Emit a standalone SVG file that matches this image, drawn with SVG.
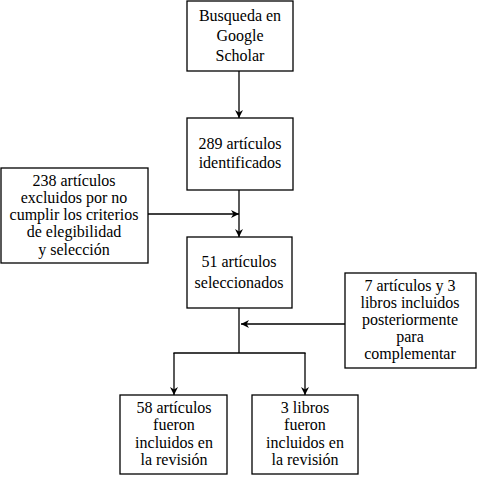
<svg xmlns="http://www.w3.org/2000/svg" width="480" height="479" viewBox="0 0 480 479">
<style>
.b{fill:#fff;stroke:#000;stroke-width:1.3}
.t{font-family:'Liberation Serif',serif;font-size:16px;fill:#000;text-anchor:middle}
.c{fill:none;stroke:#000;stroke-width:1.3}
</style>
<defs>
<marker id="a" viewBox="0 0 10 10" refX="10" refY="5" markerWidth="8" markerHeight="8" markerUnits="userSpaceOnUse" orient="auto">
<path d="M0,0 L10,5 L0,10 L3,5 Z" fill="#000"/>
</marker>
</defs>
<rect width="480" height="479" fill="#fff"/>
<g id="connectors">
<line class="c" x1="239" y1="71" x2="239" y2="118" marker-end="url(#a)"/>
<line class="c" x1="239" y1="190" x2="239" y2="237" marker-end="url(#a)"/>
<line class="c" x1="148" y1="214" x2="239" y2="214" marker-end="url(#a)"/>
<line class="c" x1="239" y1="308" x2="239" y2="353"/>
<line class="c" x1="345" y1="324" x2="241" y2="324" marker-end="url(#a)"/>
<line class="c" x1="173.4" y1="353" x2="305.6" y2="353"/>
<line class="c" x1="174" y1="353" x2="174" y2="395" marker-end="url(#a)"/>
<line class="c" x1="305" y1="353" x2="305" y2="395" marker-end="url(#a)"/>
</g>
<g id="n1"><rect class="b" x="187" y="1" width="106" height="70"/>
<text class="t" x="240" y="21">Busqueda en</text><text class="t" x="240" y="41">Google</text><text class="t" x="240" y="61">Scholar</text></g>
<g id="n2"><rect class="b" x="187" y="118" width="106" height="72"/>
<text class="t" x="240" y="149">289 artículos</text><text class="t" x="240" y="168">identificados</text></g>
<g id="n3"><rect class="b" x="1" y="168" width="147" height="95"/>
<text class="t" x="74" y="186">238 artículos</text><text class="t" x="74" y="203">excluidos por no</text><text class="t" x="74" y="220">cumplir los criterios</text><text class="t" x="74" y="237">de elegibilidad</text><text class="t" x="74" y="255">y selección</text></g>
<g id="n4"><rect class="b" x="187" y="237" width="105" height="71"/>
<text class="t" x="239" y="267">51 artículos</text><text class="t" x="239" y="288">seleccionados</text></g>
<g id="n5"><rect class="b" x="345" y="273" width="131" height="95"/>
<text class="t" x="410" y="291">7 artículos y 3</text><text class="t" x="410" y="308">libros incluidos</text><text class="t" x="410" y="325">posteriormente</text><text class="t" x="410" y="342">para</text><text class="t" x="410" y="359">complementar</text></g>
<g id="n6"><rect class="b" x="120" y="395" width="107" height="79"/>
<text class="t" x="174" y="413">58 artículos</text><text class="t" x="174" y="430">fueron</text><text class="t" x="174" y="448">incluidos en</text><text class="t" x="174" y="465">la revisión</text></g>
<g id="n7"><rect class="b" x="252" y="395" width="106" height="79"/>
<text class="t" x="305" y="413">3 libros</text><text class="t" x="305" y="430">fueron</text><text class="t" x="305" y="448">incluidos en</text><text class="t" x="305" y="465">la revisión</text></g>
</svg>
